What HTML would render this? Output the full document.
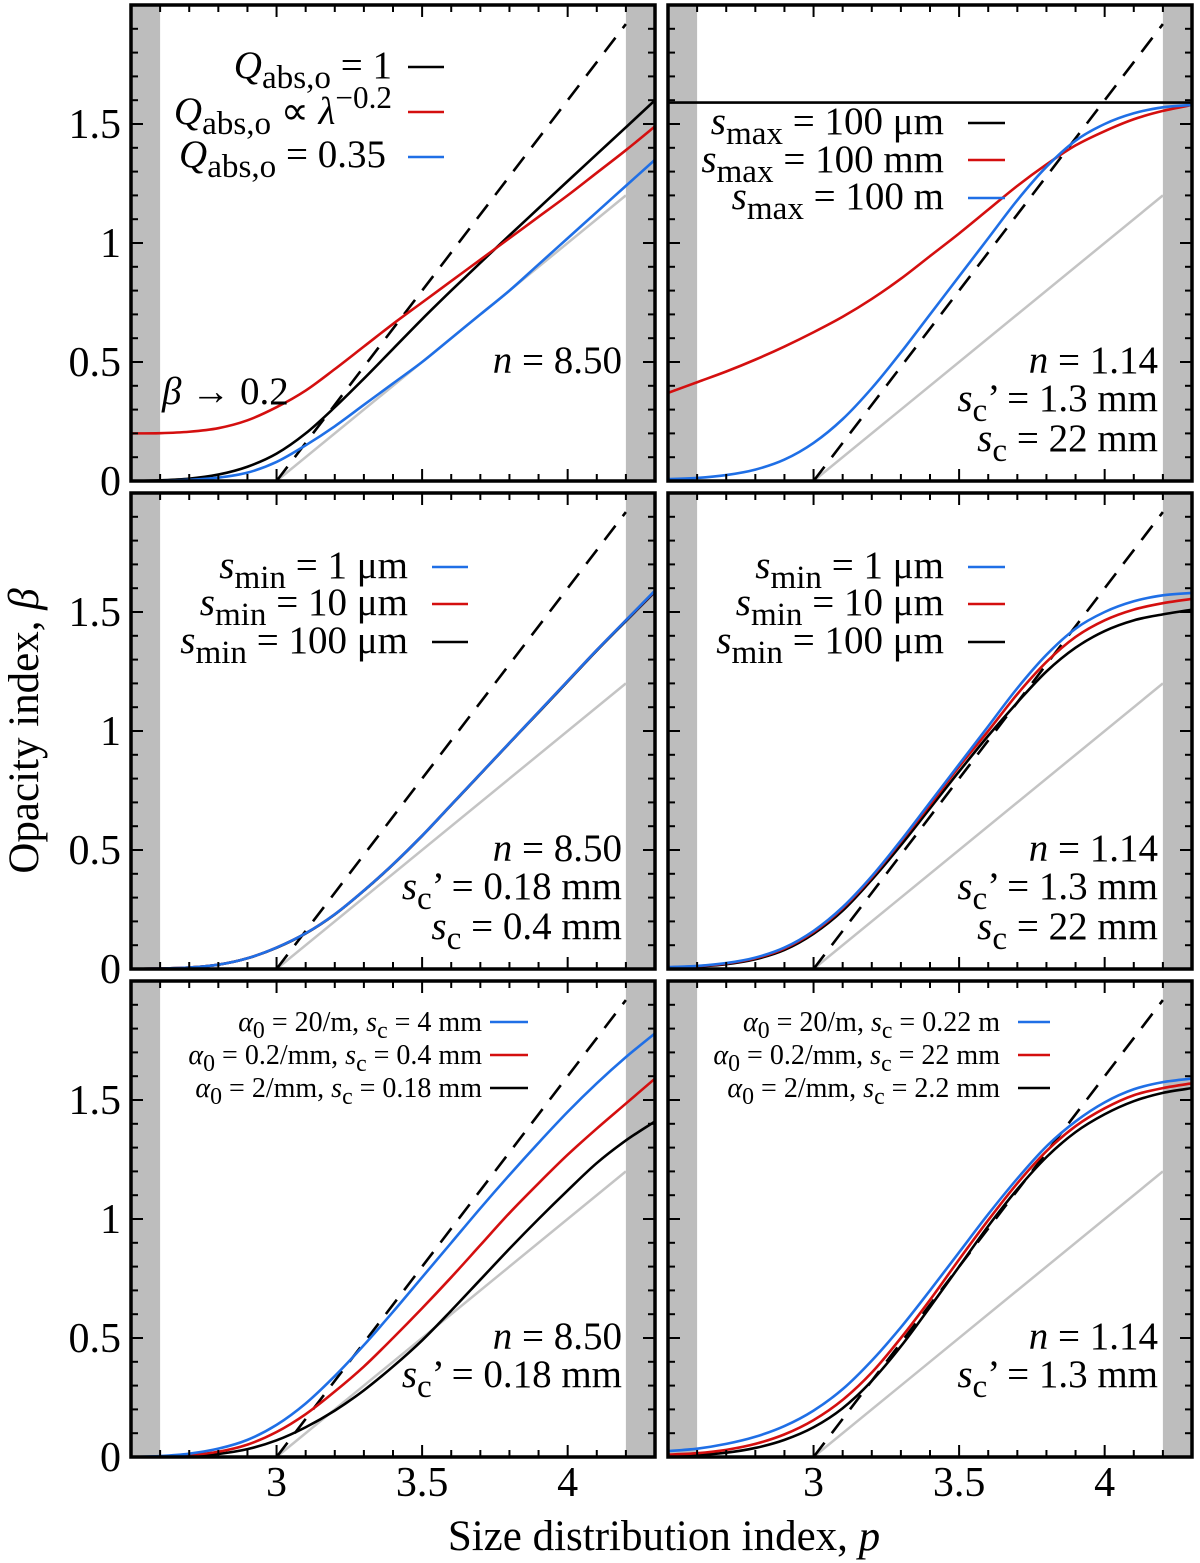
<!DOCTYPE html>
<html><head><meta charset="utf-8"><style>
html,body{margin:0;padding:0;background:#fff;}
svg{display:block;font-family:"Liberation Serif",serif;}
</style></head><body>
<svg id="fig" width="1200" height="1563" viewBox="0 0 1200 1563" xmlns="http://www.w3.org/2000/svg" font-family="Liberation Serif, serif">
<text x="664" y="1550" font-size="43" text-anchor="middle">Size distribution index, <tspan font-style="italic">p</tspan></text>
<text transform="translate(38,731) rotate(-90)" font-size="43" text-anchor="middle">Opacity index, <tspan font-style="italic">β</tspan></text>
</svg>
<script>
const pGrid = [2.5,2.6,2.7,2.8,2.9,3.0,3.1,3.2,3.3,3.4,3.5,3.6,3.7,3.8,3.9,4.0,4.1,4.2,4.3];
const xTicks = [3, 3.5, 4];
const xTickLabels = ["3","3.5","4"];
const yTicks = [0, 0.5, 1, 1.5];
const yTickLabels = ["0","0.5","1","1.5"];
const dashSlope = 1.6;
const graySlope = 1.0;
// top-left
const tlBlack = [0,0.003,0.01,0.027,0.06,0.115,0.2,0.31,0.43,0.555,0.68,0.8,0.917,1.032,1.146,1.26,1.373,1.486,1.6];
const tlRed = [0.2,0.201,0.207,0.222,0.255,0.31,0.38,0.47,0.565,0.66,0.75,0.84,0.93,1.02,1.11,1.2,1.295,1.39,1.49];
const tlBlue = [0,0.001,0.005,0.014,0.035,0.08,0.15,0.23,0.32,0.41,0.5,0.6,0.7,0.8,0.91,1.02,1.13,1.24,1.35];
// top-right
const trBlack = [1.59,1.59,1.59,1.59,1.59,1.59,1.59,1.59,1.59,1.59,1.59,1.59,1.59,1.59,1.59,1.59,1.59,1.59,1.59];
const trRed = [0.37,0.415,0.46,0.51,0.565,0.625,0.69,0.765,0.85,0.945,1.04,1.14,1.24,1.33,1.41,1.47,1.52,1.555,1.58];
const trBlue = [0.008,0.013,0.025,0.048,0.09,0.16,0.26,0.39,0.54,0.7,0.86,1.02,1.18,1.32,1.43,1.5,1.545,1.57,1.58];
// middle-left
const mlBlue = [0,0.002,0.006,0.018,0.045,0.09,0.15,0.23,0.33,0.44,0.56,0.69,0.82,0.95,1.08,1.21,1.34,1.465,1.59];
const mlRed = [0,0.002,0.006,0.018,0.045,0.09,0.15,0.23,0.33,0.44,0.56,0.69,0.82,0.95,1.08,1.21,1.34,1.465,1.588];
const mlBlack = [0,0.002,0.006,0.018,0.045,0.089,0.149,0.229,0.329,0.439,0.559,0.689,0.819,0.949,1.078,1.208,1.338,1.462,1.585];
// middle-right
const mrBlue = [0.008,0.013,0.025,0.048,0.09,0.16,0.26,0.39,0.54,0.7,0.86,1.02,1.18,1.32,1.43,1.5,1.545,1.57,1.58];
const mrRed = [0.007,0.012,0.023,0.045,0.086,0.155,0.255,0.385,0.535,0.69,0.85,1.0,1.155,1.29,1.395,1.465,1.51,1.537,1.555];
const mrBlack = [0.006,0.01,0.02,0.041,0.08,0.148,0.245,0.375,0.52,0.675,0.83,0.98,1.12,1.25,1.35,1.42,1.465,1.49,1.51];
// bottom-left
const blBlue = [0,0.004,0.014,0.035,0.072,0.135,0.225,0.34,0.47,0.61,0.755,0.9,1.045,1.185,1.32,1.45,1.57,1.68,1.78];
const blRed = [0,0.002,0.008,0.022,0.052,0.105,0.18,0.275,0.38,0.5,0.625,0.755,0.89,1.025,1.15,1.27,1.38,1.485,1.59];
const blBlack = [0,0.001,0.004,0.013,0.033,0.07,0.125,0.195,0.28,0.38,0.49,0.615,0.745,0.875,1.0,1.12,1.235,1.33,1.41];
// bottom-right
const brBlue = [0.025,0.035,0.055,0.085,0.13,0.195,0.285,0.405,0.545,0.7,0.86,1.02,1.17,1.305,1.41,1.49,1.545,1.575,1.59];
const brRed = [0.01,0.016,0.03,0.055,0.095,0.155,0.24,0.355,0.5,0.66,0.83,0.995,1.15,1.285,1.39,1.465,1.52,1.55,1.57];
const brBlack = [0.004,0.008,0.018,0.038,0.072,0.125,0.205,0.32,0.465,0.63,0.8,0.97,1.125,1.26,1.365,1.44,1.495,1.53,1.55];

const NS = "http://www.w3.org/2000/svg";
const svg = document.getElementById('fig');
const BLUE = "#1f6fe6", RED = "#d40f0f", BLACK = "#000";
const W = 524, H = 476, P0 = 2.5, P1 = 4.3, B1 = 2.0;
function mk(tag, attrs, parent) { const e = document.createElementNS(NS, tag); for (const k in attrs) e.setAttribute(k, attrs[k]); (parent||svg).appendChild(e); return e; }

const panels = [
 {id:'top-left', x:131, y:5, series:[[tlBlack,BLACK,'q-abs-1'],[tlRed,RED,'q-abs-lambda'],[tlBlue,BLUE,'q-abs-035']], left:true},
 {id:'top-right', x:668, y:5, series:[[trRed,RED,'smax-100mm'],[trBlue,BLUE,'smax-100m'],[trBlack,BLACK,'smax-100um']], left:false},
 {id:'middle-left', x:131, y:493, series:[[mlBlack,BLACK,'smin-100um'],[mlRed,RED,'smin-10um'],[mlBlue,BLUE,'smin-1um']], left:true},
 {id:'middle-right', x:668, y:493, series:[[mrBlack,BLACK,'smin-100um'],[mrRed,RED,'smin-10um'],[mrBlue,BLUE,'smin-1um']], left:false},
 {id:'bottom-left', x:131, y:981, series:[[blBlack,BLACK,'alpha-2mm'],[blRed,RED,'alpha-02mm'],[blBlue,BLUE,'alpha-20m']], left:true, bottom:true},
 {id:'bottom-right', x:668, y:981, series:[[brBlack,BLACK,'alpha-2mm'],[brRed,RED,'alpha-02mm'],[brBlue,BLUE,'alpha-20m']], left:false, bottom:true}
];

function pathFrom(xs, ys) {
  let d = `M${xs[0]},${ys[0]}`;
  for (let i=0;i<xs.length-1;i++){
    const x0=xs[Math.max(i-1,0)], y0=ys[Math.max(i-1,0)], x1=xs[i], y1=ys[i], x2=xs[i+1], y2=ys[i+1], x3=xs[Math.min(i+2,xs.length-1)], y3=ys[Math.min(i+2,xs.length-1)];
    d += ` C${x1+(x2-x0)/6},${y1+(y2-y0)/6} ${x2-(x3-x1)/6},${y2-(y3-y1)/6} ${x2},${y2}`;
  }
  return d;
}

panels.forEach((pn, idx) => {
  const g = mk('g', {});
  
  
  const sx = p => pn.x + (p - P0) / (P1 - P0) * W;
  const sy = b => pn.y + H - b / B1 * H;
  const cid = 'clip' + idx;
  const cp = mk('clipPath', {id: cid}, g); mk('rect', {x:pn.x, y:pn.y, width:W, height:H}, cp);
  const band1 = mk('rect', {x:sx(P0), y:pn.y, width:sx(2.6)-sx(P0), height:H, fill:'#bdbdbd'}, g);
  
  
  const band2 = mk('rect', {x:sx(4.2), y:pn.y, width:sx(P1)-sx(4.2), height:H, fill:'#bdbdbd'}, g);
  
  
  const cg = mk('g', {'clip-path':`url(#${cid})`}, g);
  const gray = mk('line', {x1:sx(3), y1:sy(0), x2:sx(4.2), y2:sy(1.2*graySlope), stroke:'#c4c4c4', 'stroke-width':2.5}, cg);
  
  
  const dash = mk('line', {x1:sx(3), y1:sy(0), x2:sx(4.2), y2:sy(1.2*dashSlope), stroke:'#000', 'stroke-width':2.6, 'stroke-dasharray':'18,12'}, cg);
  
  
  pn.series.forEach(s => {
    const pth = mk('path', {d:pathFrom(pGrid.map(sx), s[0].map(sy)), fill:'none', stroke:s[1], 'stroke-width':2.6}, cg);
    
    
  });
  for (let k=0;k<=18;k++){
    const p = P0 + k*0.1; const major = Math.abs(p*2 - Math.round(p*2))<1e-6; const L = major?12:7;
    mk('line',{x1:sx(p),y1:pn.y+H,x2:sx(p),y2:pn.y+H-L,stroke:'#000','stroke-width':2},g);
    mk('line',{x1:sx(p),y1:pn.y,x2:sx(p),y2:pn.y+L,stroke:'#000','stroke-width':2},g);
  }
  for (let k=0;k<=20;k++){
    const b = k*0.1; const major = k%5===0; const L = major?12:7;
    mk('line',{x1:pn.x,y1:sy(b),x2:pn.x+L,y2:sy(b),stroke:'#000','stroke-width':2},g);
    mk('line',{x1:pn.x+W,y1:sy(b),x2:pn.x+W-L,y2:sy(b),stroke:'#000','stroke-width':2},g);
  }
  const fr = mk('rect',{x:pn.x,y:pn.y,width:W,height:H,fill:'none',stroke:'#000','stroke-width':3.5},g);
  
  
  if (pn.left) {
    yTicks.forEach((b,i)=>{
      const t = mk('text',{x:pn.x-10,y:sy(b)+14,'font-size':42,'text-anchor':'end'},g);
      
      
      t.textContent = yTickLabels[i];
    });
  }
  if (pn.bottom) {
    xTicks.forEach((p,i)=>{
      const t = mk('text',{x:sx(p),y:1496,'font-size':42,'text-anchor':'middle'},g);
      
      
      t.textContent = xTickLabels[i];
    });
  }
});

function addText(html, x, y, size, name, anchor) {
  const t = mk('text', {x:x, y:y, 'font-size':size, 'text-anchor':anchor||'end'});
  
  
  t.innerHTML = html;
  return t;
}
function legLine(x1,x2,y,color){ const l = mk('line',{x1:x1,x2:x2,y1:y,y2:y,stroke:color,'stroke-width':2.6});
  
   }
const SUB = (s)=>`<tspan dy="10" font-size="0.85em">${s}</tspan><tspan dy="-10">`;
const FS = 39;
addText(`<tspan font-style="italic">Q</tspan>${SUB('abs,o')} = 1</tspan>`, 392, 78, FS, 'legend-entry-q1');
addText(`<tspan font-style="italic">Q</tspan>${SUB('abs,o')} ∝ <tspan font-style="italic">λ</tspan><tspan dy="-16" font-size="0.8em">−0.2</tspan></tspan>`, 392, 124, FS, 'legend-entry-qlambda');
addText(`<tspan font-style="italic">Q</tspan>${SUB('abs,o')} = 0.35</tspan>`, 386, 167, FS, 'legend-entry-q035');
legLine(408,444,67,BLACK); legLine(408,444,112,RED); legLine(408,444,157,BLUE);
addText(`<tspan font-style="italic">β</tspan> → 0.2`, 162, 404, FS, 'annotation-beta-limit', 'start');
addText(`<tspan font-style="italic">n</tspan> = 8.50`, 622, 373, FS, 'annotation-n');
addText(`<tspan font-style="italic">s</tspan>${SUB('max')} = 100 μm</tspan>`, 944, 134, FS, 'legend-entry-smax-um');
addText(`<tspan font-style="italic">s</tspan>${SUB('max')} = 100 mm</tspan>`, 944, 172, FS, 'legend-entry-smax-mm');
addText(`<tspan font-style="italic">s</tspan>${SUB('max')} = 100 m</tspan>`, 944, 209, FS, 'legend-entry-smax-m');
legLine(968,1005,123,BLACK); legLine(968,1005,160,RED); legLine(968,1005,198,BLUE);
addText(`<tspan font-style="italic">n</tspan> = 1.14`, 1158, 373, FS, 'annotation-n');
addText(`<tspan font-style="italic">s</tspan>${SUB('c')}’ = 1.3 mm</tspan>`, 1158, 411, FS, 'annotation-sc-prime');
addText(`<tspan font-style="italic">s</tspan>${SUB('c')} = 22 mm</tspan>`, 1158, 451, FS, 'annotation-sc');
[[ 'smin-1um','1 μm',BLUE,567],['smin-10um','10 μm',RED,604],['smin-100um','100 μm',BLACK,642]].forEach(e=>{
  addText(`<tspan font-style="italic">s</tspan>${SUB('min')} = ${e[1]}</tspan>`, 408, e[3]+11, FS, 'legend-entry-'+e[0]);
  legLine(432,468,e[3],e[2]);
  addText(`<tspan font-style="italic">s</tspan>${SUB('min')} = ${e[1]}</tspan>`, 944, e[3]+11, FS, 'legend-entry-'+e[0]);
  legLine(968,1005,e[3],e[2]);
});
addText(`<tspan font-style="italic">n</tspan> = 8.50`, 622, 861, FS, 'annotation-n');
addText(`<tspan font-style="italic">s</tspan>${SUB('c')}’ = 0.18 mm</tspan>`, 622, 899, FS, 'annotation-sc-prime');
addText(`<tspan font-style="italic">s</tspan>${SUB('c')} = 0.4 mm</tspan>`, 622, 939, FS, 'annotation-sc');
addText(`<tspan font-style="italic">n</tspan> = 1.14`, 1158, 861, FS, 'annotation-n');
addText(`<tspan font-style="italic">s</tspan>${SUB('c')}’ = 1.3 mm</tspan>`, 1158, 899, FS, 'annotation-sc-prime');
addText(`<tspan font-style="italic">s</tspan>${SUB('c')} = 22 mm</tspan>`, 1158, 939, FS, 'annotation-sc');
const SUBs = (s)=>`<tspan dy="7" font-size="0.85em">${s}</tspan><tspan dy="-7">`;
const A = `<tspan font-style="italic">α</tspan>${SUBs('0')}`;
const S = `<tspan font-style="italic">s</tspan>${SUBs('c')}`;
[['20/m','4 mm',BLUE,1022,'alpha-20m'],['0.2/mm','0.4 mm',RED,1055,'alpha-02mm'],['2/mm','0.18 mm',BLACK,1088,'alpha-2mm']].forEach(e=>{
  addText(`${A} = ${e[0]}, ${S} = ${e[1]}</tspan></tspan>`, 482, e[3]+9, 28, 'legend-entry-'+e[4]);
  legLine(490,528,e[3],e[2]);
});
[['20/m','0.22 m',BLUE,1022,'alpha-20m'],['0.2/mm','22 mm',RED,1055,'alpha-02mm'],['2/mm','2.2 mm',BLACK,1088,'alpha-2mm']].forEach(e=>{
  addText(`${A} = ${e[0]}, ${S} = ${e[1]}</tspan></tspan>`, 1000, e[3]+9, 28, 'legend-entry-'+e[4]);
  legLine(1018,1050,e[3],e[2]);
});
addText(`<tspan font-style="italic">n</tspan> = 8.50`, 622, 1349, FS, 'annotation-n');
addText(`<tspan font-style="italic">s</tspan>${SUB('c')}’ = 0.18 mm</tspan>`, 622, 1387, FS, 'annotation-sc-prime');
addText(`<tspan font-style="italic">n</tspan> = 1.14`, 1158, 1349, FS, 'annotation-n');
addText(`<tspan font-style="italic">s</tspan>${SUB('c')}’ = 1.3 mm</tspan>`, 1158, 1387, FS, 'annotation-sc-prime');
</script>
</body></html>
